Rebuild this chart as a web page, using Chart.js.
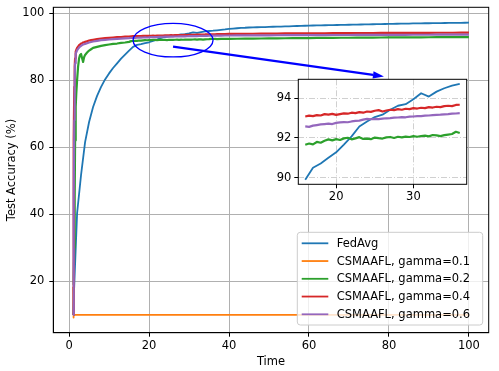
<!DOCTYPE html>
<html>
<head>
<meta charset="utf-8">
<script src="https://cdn.jsdelivr.net/npm/chart.js@4.4.1/dist/chart.umd.min.js"></script>
<style>
  html, body { margin: 0; padding: 0; background: #fff; }
  #wrap { position: relative; width: 499px; height: 371px; }
  #wrap canvas { position: absolute; left: 0; top: 0; }
</style>
</head>
<body>
<div id="wrap">
  <canvas id="main" width="499" height="371"></canvas>
  <canvas id="zoom" width="499" height="371"></canvas>
</div>
<script>
// FedAvg is logged once per time unit
var fedTime = [];
for (var t = 1; t <= 100; t++) fedTime.push(t);
var fedAvg = [10.0, 40.3, 51.8, 61.5, 67.5, 72.0, 75.3, 78.0, 80.2, 82.0,
  83.6, 85.0, 86.4, 87.6, 88.8, 89.9, 90.5, 90.72, 91.0, 91.28,
  91.67, 92.08, 92.58, 92.83, 93.05, 93.17, 93.42, 93.62, 93.7, 93.95,
  94.25, 94.08, 94.33, 94.5, 94.63, 94.72, 94.85, 94.98, 95.1, 95.25,
  95.35, 95.45, 95.55, 95.6, 95.68, 95.72, 95.75, 95.8, 95.82, 95.86,
  95.9, 95.93, 95.95, 96.0, 96.03, 96.08, 96.12, 96.15, 96.2, 96.25,
  96.27, 96.3, 96.33, 96.35, 96.38, 96.4, 96.42, 96.45, 96.47, 96.5,
  96.52, 96.55, 96.57, 96.6, 96.62, 96.65, 96.67, 96.7, 96.72, 96.75,
  96.77, 96.8, 96.82, 96.84, 96.86, 96.88, 96.9, 96.92, 96.94, 96.95,
  96.97, 96.99, 97.0, 97.02, 97.04, 97.05, 97.07, 97.08, 97.1, 97.12];

// CSMAAFL runs are logged much more often
var csTime = [1, 1.1, 1.2, 1.3, 1.4, 1.5, 1.6, 1.7, 1.8, 2, 2.25, 2.5, 2.75, 3, 3.25, 3.5, 3.75, 4, 4.5, 5,
  5.5, 6, 7, 8, 9, 10, 11, 12, 13, 14, 15,
  15.5, 16, 16.5, 17, 17.5, 18, 18.5, 19, 19.5, 20, 20.5, 21, 21.5, 22, 22.5, 23, 23.5, 24, 24.5, 25,
  25.5, 26, 26.5, 27, 27.5, 28, 28.5, 29, 29.5, 30, 30.5, 31, 31.5, 32, 32.5, 33, 33.5, 34, 34.5, 35,
  35.5, 36, 36.5, 37,
  38, 39, 40, 42, 44, 46, 48, 50, 52, 54, 56, 58, 60, 62, 64, 66, 68, 70, 72, 74, 76, 78, 80,
  82, 84, 86, 88, 90, 92, 94, 96, 98, 100];

var gamma02 = [19, 20, 21, 30, 45, 62, 68, 72, 76, 80, 84, 86.5, 87.5, 87.8, 86.5, 85.4, 86.8, 87.5, 88.2, 88.8,
  89.2, 89.6, 89.9, 90.2, 90.4, 90.6, 90.8, 90.9, 91.1, 91.2, 91.4,
  91.62, 91.66, 91.72, 91.68, 91.8, 91.76, 91.86, 91.93, 91.88, 91.94, 91.9, 91.98, 92.01, 91.93, 91.98, 92.04, 91.95, 91.97, 91.94, 92.02,
  91.99, 91.97, 92.03, 92.05, 92.0, 92.06, 92.03, 92.07, 92.05, 92.09, 92.06, 92.1, 92.12, 92.08, 92.15, 92.13, 92.09, 92.14, 92.17, 92.2,
  92.31, 92.25, 92.27, 92.24,
  92.27, 92.28, 92.3, 92.33, 92.35, 92.38, 92.4, 92.43, 92.45, 92.47, 92.5, 92.52, 92.53, 92.56, 92.58, 92.6, 92.62, 92.63, 92.65, 92.67, 92.68, 92.7, 92.71,
  92.72, 92.73, 92.75, 92.76, 92.77, 92.78, 92.79, 92.8, 92.8, 92.81];

var gamma04 = [10, 30, 62, 78, 84, 86.5, 87.8, 88.5, 89, 89.6, 90.0, 90.4, 90.6, 90.9, 91.0, 91.2, 91.3, 91.4, 91.6, 91.8,
  91.9, 92.0, 92.2, 92.4, 92.5, 92.6, 92.7, 92.8, 92.85, 92.95, 93.0,
  93.05, 93.08, 93.12, 93.1, 93.15, 93.13, 93.2, 93.17, 93.21, 93.16, 93.2, 93.24, 93.22, 93.27, 93.25, 93.3, 93.27, 93.33, 93.31, 93.37,
  93.4, 93.33, 93.38, 93.42, 93.4, 93.45, 93.42, 93.47, 93.45, 93.5, 93.48, 93.52, 93.5, 93.55, 93.53, 93.57, 93.55, 93.6, 93.62, 93.6,
  93.66, 93.67, 93.64, 93.68,
  93.7, 93.72, 93.75, 93.78, 93.8, 93.82, 93.85, 93.86, 93.88, 93.9, 93.9, 93.93, 93.94, 93.95, 93.97, 93.98, 94.0, 94.0, 94.02, 94.03, 94.04, 94.05, 94.06,
  94.07, 94.08, 94.08, 94.1, 94.1, 94.11, 94.12, 94.12, 94.13, 94.14];

var gamma06 = [10, 22, 45, 68, 80, 85, 87, 87.8, 88.3, 88.9, 89.3, 89.7, 90.0, 90.2, 90.4, 90.6, 90.7, 90.8, 91.0, 91.2,
  91.35, 91.5, 91.7, 91.9, 92.0, 92.1, 92.2, 92.3, 92.38, 92.45, 92.5,
  92.55, 92.58, 92.56, 92.62, 92.65, 92.68, 92.7, 92.72, 92.7, 92.76, 92.78, 92.8, 92.79, 92.83, 92.86, 92.87, 92.92, 92.96, 92.94, 92.96,
  92.95, 92.97, 92.99, 93.0, 93.02, 93.03, 93.05, 93.04, 93.07, 93.08, 93.1, 93.1, 93.12, 93.13, 93.15, 93.16, 93.17, 93.19, 93.2, 93.22,
  93.23, 93.25, 93.26, 93.27,
  93.28, 93.29, 93.3, 93.32, 93.33, 93.34, 93.35, 93.36, 93.37, 93.38, 93.39, 93.4, 93.41, 93.42, 93.43, 93.44, 93.44, 93.45, 93.46, 93.47, 93.48, 93.48, 93.49,
  93.5, 93.5, 93.51, 93.52, 93.52, 93.53, 93.54, 93.54, 93.55, 93.55];

// gamma=0.1 collapses right away and stays at 10 %
var g01Time = [1, 1.05, 1.1, 1.15, 1.2, 1.5, 2, 3, 5, 10, 20, 30, 40, 50, 60, 70, 80, 90, 100];
var gamma01 = [18.3, 9.2, 11.0, 9.6, 10.0, 10.0, 10.0, 10.0, 10.0, 10.0, 10.0, 10.0, 10.0, 10.0, 10.0, 10.0, 10.0, 10.0, 10.0];

var labels = ["FedAvg", "CSMAAFL, gamma=0.1", "CSMAAFL, gamma=0.2", "CSMAAFL, gamma=0.4", "CSMAAFL, gamma=0.6"];
var colors = ["#1f77b4", "#ff7f0e", "#2ca02c", "#d62728", "#9467bd"];
var xTicks = [0, 20, 40, 60, 80, 100];
var yTicks = [20, 40, 60, 80, 100];
var zoomXTicks = [20, 30];
var zoomYTicks = [90, 92, 94];

Chart.defaults.font.family = "DejaVu Sans";
Chart.defaults.font.size = 11.5;
Chart.defaults.color = "#000";

function pts(xs, ys, lo, hi) {
  var out = [];
  for (var i = 0; i < xs.length; i++) {
    if (lo != null && (xs[i] < lo || xs[i] > hi)) continue;
    out.push({ x: xs[i], y: ys[i] });
  }
  return out;
}

function makeSets(lo, hi, lw) {
  var src = [[fedTime, fedAvg], [g01Time, gamma01], [csTime, gamma02], [csTime, gamma04], [csTime, gamma06]];
  return src.map(function (s, i) {
    return {
      label: labels[i],
      data: pts(s[0], s[1], lo, hi),
      borderColor: colors[i],
      backgroundColor: colors[i],
      borderWidth: i >= 2 ? lw + 0.4 : lw,
      pointRadius: 0,
      tension: 0,
      borderJoinStyle: "round",
      order: src.length - 1 - i
    };
  });
}

function fixedTicks(list) {
  return function (scale) {
    scale.ticks = list.map(function (v) { return { value: v }; });
  };
}

// fix the box size and drop the label overhang chart.js adds
function fixSize(w, h) {
  return function (s) {
    if (w != null) s.width = w;
    if (h != null) s.height = h;
    s.paddingTop = 0;
    s.paddingBottom = 0;
    s.paddingLeft = 0;
    s.paddingRight = 0;
  };
}

var mainDecor = {
  id: "mainDecor",
  afterDatasetsDraw: function (chart) {
    var ctx = chart.ctx, a = chart.chartArea;
    var xs = chart.scales.x, ys = chart.scales.y;
    ctx.save();

    // ellipse around the zoomed region
    var cx = xs.getPixelForValue(26), cy = ys.getPixelForValue(91.9);
    var rx = Math.abs(xs.getPixelForValue(36) - cx);
    var ry = Math.abs(ys.getPixelForValue(96.9) - cy);
    ctx.strokeStyle = "#0000ff";
    ctx.lineWidth = 1.3;
    ctx.beginPath();
    ctx.ellipse(cx, cy, rx, ry, 0, 0, Math.PI * 2);
    ctx.stroke();

    // arrow towards the inset
    var x0 = xs.getPixelForValue(26), y0 = ys.getPixelForValue(90);
    var x1 = xs.getPixelForValue(78.75), y1 = ys.getPixelForValue(81.1);
    var ang = Math.atan2(y1 - y0, x1 - x0);
    var hl = 11, hw = 3.6;
    var bx = x1 - hl * Math.cos(ang), by = y1 - hl * Math.sin(ang);
    ctx.lineWidth = 2.2;
    ctx.beginPath();
    ctx.moveTo(x0, y0);
    ctx.lineTo(bx, by);
    ctx.stroke();
    ctx.fillStyle = "#0000ff";
    ctx.beginPath();
    ctx.moveTo(x1, y1);
    ctx.lineTo(bx + hw * Math.sin(ang), by - hw * Math.cos(ang));
    ctx.lineTo(bx - hw * Math.sin(ang), by + hw * Math.cos(ang));
    ctx.closePath();
    ctx.fill();

    // legend, lower right
    var lw = 185.4, lh = 92.7;
    var lx = a.right - 6 - lw, ly = a.bottom - 7.7 - lh;
    ctx.fillStyle = "rgba(255,255,255,0.8)";
    ctx.strokeStyle = "#cccccc";
    ctx.lineWidth = 1;
    ctx.beginPath();
    ctx.roundRect(lx, ly, lw, lh, 3);
    ctx.fill();
    ctx.stroke();
    ctx.font = "11.5px 'DejaVu Sans'";
    ctx.textBaseline = "middle";
    ctx.textAlign = "left";
    for (var i = 0; i < labels.length; i++) {
      var yy = ly + 11 + i * 17.75;
      ctx.strokeStyle = colors[i];
      ctx.lineWidth = 1.8;
      ctx.beginPath();
      ctx.moveTo(lx + 4.4, yy);
      ctx.lineTo(lx + 31, yy);
      ctx.stroke();
      ctx.fillStyle = "#000";
      ctx.fillText(labels[i], lx + 39.4, yy + 0.5);
    }

    // frame
    ctx.strokeStyle = "#000";
    ctx.lineWidth = 1;
    ctx.strokeRect(a.left, a.top, a.right - a.left, a.bottom - a.top);

    // axis titles
    ctx.fillStyle = "#000";
    ctx.textAlign = "center";
    ctx.fillText("Time", (a.left + a.right) / 2, 361.7);
    ctx.translate(11.7, (a.top + a.bottom) / 2);
    ctx.rotate(-Math.PI / 2);
    ctx.fillText("Test Accuracy (%)", 0, 0);
    ctx.restore();
  }
};

new Chart(document.getElementById("main"), {
  type: "line",
  data: { datasets: makeSets(null, null, 1.8) },
  options: {
    responsive: false,
    animation: false,
    events: [],
    layout: { padding: { top: 7.3, right: 10.3, left: 0, bottom: 0 } },
    plugins: { legend: { display: false }, tooltip: { enabled: false } },
    scales: {
      x: {
        type: "linear",
        min: -3.95,
        max: 104.95,
        afterBuildTicks: fixedTicks(xTicks),
        afterFit: fixSize(null, 38.3),
        grid: { color: "#b0b0b0", lineWidth: 1, tickLength: 4, tickColor: "#000", tickWidth: 1 },
        border: { display: true, color: "#000", width: 1 },
        ticks: { padding: 2, maxRotation: 0, autoSkip: false, color: "#000" }
      },
      y: {
        type: "linear",
        min: 4.7,
        max: 101.7,
        afterBuildTicks: fixedTicks(yTicks),
        afterFit: fixSize(53.3, null),
        grid: { color: "#b0b0b0", lineWidth: 1, tickLength: 4, tickColor: "#000", tickWidth: 1 },
        border: { display: true, color: "#000", width: 1 },
        ticks: { padding: 5, autoSkip: false, color: "#000" }
      }
    }
  },
  plugins: [mainDecor]
});

var zoomDecor = {
  id: "zoomDecor",
  beforeDraw: function (chart) {
    var ctx = chart.ctx, a = chart.chartArea;
    ctx.save();
    ctx.fillStyle = "#fff";
    ctx.fillRect(a.left, a.top, a.right - a.left, a.bottom - a.top);
    ctx.restore();
  },
  afterDraw: function (chart) {
    var ctx = chart.ctx, a = chart.chartArea;
    ctx.save();
    ctx.strokeStyle = "#000";
    ctx.lineWidth = 1;
    ctx.strokeRect(a.left, a.top, a.right - a.left, a.bottom - a.top);
    ctx.restore();
  }
};

var zoomGrid = { color: "rgba(176,176,176,0.6)", lineWidth: 1, tickLength: 4, tickColor: "#000", tickWidth: 1, tickBorderDash: [] };
new Chart(document.getElementById("zoom"), {
  type: "line",
  data: { datasets: makeSets(16, 36, 1.8) },
  options: {
    responsive: false,
    animation: false,
    events: [],
    layout: { padding: { top: 79.3, right: 32.3, left: 268.3, bottom: 161.7 } },
    plugins: { legend: { display: false }, tooltip: { enabled: false } },
    scales: {
      x: {
        type: "linear",
        min: 15.1,
        max: 36.9,
        afterBuildTicks: fixedTicks(zoomXTicks),
        afterFit: fixSize(null, 25),
        grid: zoomGrid,
        border: { display: false, dash: [6, 2, 1, 2] },
        ticks: { padding: 2, maxRotation: 0, autoSkip: false, color: "#000" }
      },
      y: {
        type: "linear",
        min: 89.67,
        max: 94.95,
        afterBuildTicks: fixedTicks(zoomYTicks),
        afterFit: fixSize(30, null),
        grid: zoomGrid,
        border: { display: false, dash: [6, 2, 1, 2] },
        ticks: { padding: 3, autoSkip: false, color: "#000" }
      }
    }
  },
  plugins: [zoomDecor]
});
</script>
</body>
</html>
